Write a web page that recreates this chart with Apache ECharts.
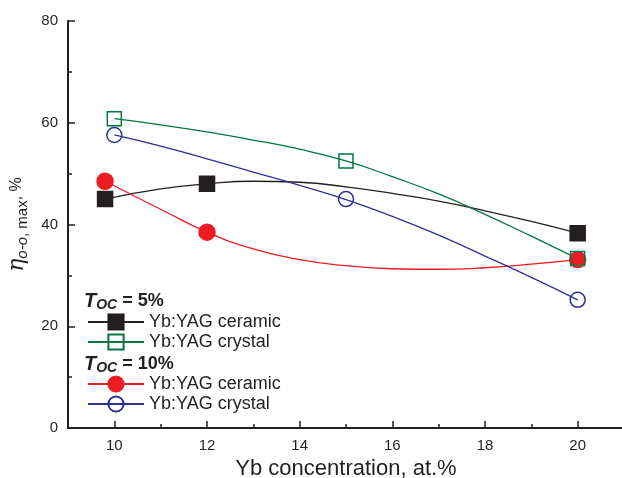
<!DOCTYPE html>
<html>
<head>
<meta charset="utf-8">
<script src="https://cdn.jsdelivr.net/npm/echarts@6/dist/echarts.min.js"></script>
<style>
  html, body { margin: 0; padding: 0; background: #fff; }
  #main { width: 622px; height: 478px; }
</style>
</head>
<body>
<div id="main"></div>
<script>
// 坐标轴刻度
var xMajorTicks = [10, 12, 14, 16, 18, 20];
var xMinorTicks = [11, 13, 15, 17, 19];

// 测量点 T_OC = 5%
var ceramic5X = [9.8, 12, 20];
var ceramic5Y = [45.0, 48.0, 38.3];
var crystal5X = [10, 15, 20];
var crystal5Y = [60.8, 52.5, 33.3];
// 测量点 T_OC = 10%
var ceramic10X = [9.8, 12, 20];
var ceramic10Y = [48.5, 38.5, 33.1];
var crystal10X = [10, 15, 20];
var crystal10Y = [57.6, 45.0, 25.2];

// 拟合曲线
var ceramic5Fit = [[9.8, 45.0], [11, 47.0], [12, 48.0], [13, 48.5], [14, 48.3], [15, 47.4], [16, 46.1], [17, 44.6], [18, 42.7], [19, 40.6], [20, 38.3]];
var crystal5Fit = [[10, 60.8], [11, 59.6], [12, 58.2], [13, 56.6], [14, 54.8], [15, 52.5], [16, 49.4], [17, 46.0], [18, 42.0], [19, 37.7], [20, 33.3]];
var ceramic10Fit = [[9.8, 48.5], [11, 43.0], [12, 38.5], [13, 35.2], [14, 33.1], [15, 31.9], [16, 31.3], [17, 31.2], [18, 31.5], [19, 32.2], [20, 33.1]];
var crystal10Fit = [[10, 57.6], [11, 55.4], [12, 52.9], [13, 50.3], [14, 47.7], [15, 44.9], [16, 41.6], [17, 37.9], [18, 33.8], [19, 29.6], [20, 25.2]];

var BLACK = '#231f20';
var GREEN = '#00773d';
var RED = '#ed1c24';
var BLUE = '#2e3192';
var FONT = 'Liberation Sans';

function pairs(xs, ys) {
    return xs.map(function (x, i) { return [x, ys[i]]; });
}

// 曲线系列（带图例符号）
function fitSeries(name, data, color, symbol, fill) {
    return {
        type: 'line',
        name: name,
        data: data,
        smooth: 0.5,
        showSymbol: false,
        symbol: symbol,
        symbolSize: 15,
        itemStyle: { color: fill, borderColor: color, borderWidth: 1.5 },
        lineStyle: { color: color, width: 1.3 },
        z: 2,
        silent: true
    };
}

// 测量点系列
function pointSeries(name, data, color, symbol, size, fill) {
    return {
        type: 'scatter',
        name: name,
        data: data,
        symbol: symbol,
        symbolSize: size,
        itemStyle: { color: fill, borderColor: color, borderWidth: 1.5, opacity: 1 },
        z: 3
    };
}

var legendText = {
    fontFamily: FONT,
    fontSize: 18,
    color: BLACK
};

var titleRich = {
    t: { fontFamily: FONT, fontStyle: 'italic', fontWeight: 'bold', fontSize: 20, fill: BLACK, lineHeight: 22, verticalAlign: 'middle' },
    s: { fontFamily: FONT, fontStyle: 'italic', fontWeight: 'bold', fontSize: 14, fill: BLACK, lineHeight: 22, verticalAlign: 'bottom' },
    n: { fontFamily: FONT, fontWeight: 'bold', fontSize: 18, fill: BLACK, lineHeight: 22, verticalAlign: 'middle' }
};

var option = {
    animation: false,
    grid: { left: 68, top: 21, width: 556, height: 407, outerBoundsMode: 'none', containLabel: false },
    xAxis: [
        {
            type: 'value',
            min: 9,
            max: 21,
            name: 'Yb concentration, at.%',
            nameLocation: 'middle',
            nameGap: 26,
            nameTextStyle: { fontFamily: FONT, fontSize: 22, color: BLACK },
            axisLine: { show: true, lineStyle: { color: BLACK, width: 2 } },
            axisTick: { inside: true, length: 7, customValues: xMajorTicks, lineStyle: { color: BLACK, width: 1.5 } },
            axisLabel: { customValues: xMajorTicks, margin: 10, fontFamily: FONT, fontSize: 15, color: BLACK },
            splitLine: { show: false }
        },
        {
            type: 'value',
            min: 9,
            max: 21,
            position: 'bottom',
            axisLine: { show: false },
            axisTick: { inside: true, length: 4, customValues: xMinorTicks, lineStyle: { color: BLACK, width: 1.5 } },
            axisLabel: { show: false },
            splitLine: { show: false }
        }
    ],
    yAxis: {
        type: 'value',
        min: 0,
        max: 80,
        interval: 20,
        name: '{eta|η}{sub|o-o}{sub2|, max}{txt|, %}',
        nameLocation: 'middle',
        nameGap: 38,
        nameRotate: 90,
        nameTextStyle: {
            color: BLACK,
            rich: {
                eta: { fontFamily: 'DejaVu Serif', fontStyle: 'italic', fontSize: 22, color: BLACK, lineHeight: 26, verticalAlign: 'middle' },
                sub: { fontFamily: FONT, fontStyle: 'italic', fontSize: 15, color: BLACK, verticalAlign: 'bottom', lineHeight: 26 },
                sub2: { fontFamily: FONT, fontSize: 15, color: BLACK, verticalAlign: 'bottom', lineHeight: 26 },
                txt: { fontFamily: FONT, fontSize: 16, color: BLACK, verticalAlign: 'middle', lineHeight: 26 }
            }
        },
        axisLine: { show: true, lineStyle: { color: BLACK, width: 2 } },
        axisTick: { inside: true, length: 7, lineStyle: { color: BLACK, width: 1.5 } },
        minorTick: { show: true, splitNumber: 2, length: 4, lineStyle: { color: BLACK, width: 1.5 } },
        axisLabel: { margin: 10, fontFamily: FONT, fontSize: 15, color: BLACK },
        splitLine: { show: false }
    },
    legend: [
        {
            orient: 'vertical',
            left: 87,
            top: 313,
            padding: 0,
            itemWidth: 56,
            itemHeight: 19,
            itemGap: 2,
            textStyle: legendText,
            formatter: function (name) { return name.split('|')[1]; },
            data: ['5|Yb:YAG ceramic', '5|Yb:YAG crystal']
        },
        {
            orient: 'vertical',
            left: 87,
            top: 375,
            padding: 0,
            itemWidth: 56,
            itemHeight: 19,
            itemGap: 2,
            textStyle: legendText,
            formatter: function (name) { return name.split('|')[1]; },
            data: ['10|Yb:YAG ceramic', '10|Yb:YAG crystal']
        }
    ],
    graphic: [
        {
            type: 'text',
            left: 84,
            top: 291,
            style: { text: '{t|T}{s|OC}{n| = 5%}', rich: titleRich }
        },
        {
            type: 'text',
            left: 84,
            top: 354,
            style: { text: '{t|T}{s|OC}{n| = 10%}', rich: titleRich }
        }
    ],
    series: [
        fitSeries('5|Yb:YAG ceramic', ceramic5Fit, BLACK, 'rect', BLACK),
        fitSeries('5|Yb:YAG crystal', crystal5Fit, GREEN, 'rect', 'transparent'),
        fitSeries('10|Yb:YAG ceramic', ceramic10Fit, RED, 'circle', RED),
        fitSeries('10|Yb:YAG crystal', crystal10Fit, BLUE, 'circle', 'transparent'),
        pointSeries('pts ceramic 10', pairs(ceramic10X, ceramic10Y), RED, 'circle', 16, RED),
        pointSeries('pts ceramic 5', pairs(ceramic5X, ceramic5Y), BLACK, 'rect', 15, BLACK),
        pointSeries('pts crystal 10', pairs(crystal10X, crystal10Y), BLUE, 'circle', 15, 'transparent'),
        pointSeries('pts crystal 5', pairs(crystal5X, crystal5Y), GREEN, 'rect', 14, 'transparent')
    ]
};

var chart = echarts.init(document.getElementById('main'));
chart.setOption(option);
</script>
</body>
</html>
